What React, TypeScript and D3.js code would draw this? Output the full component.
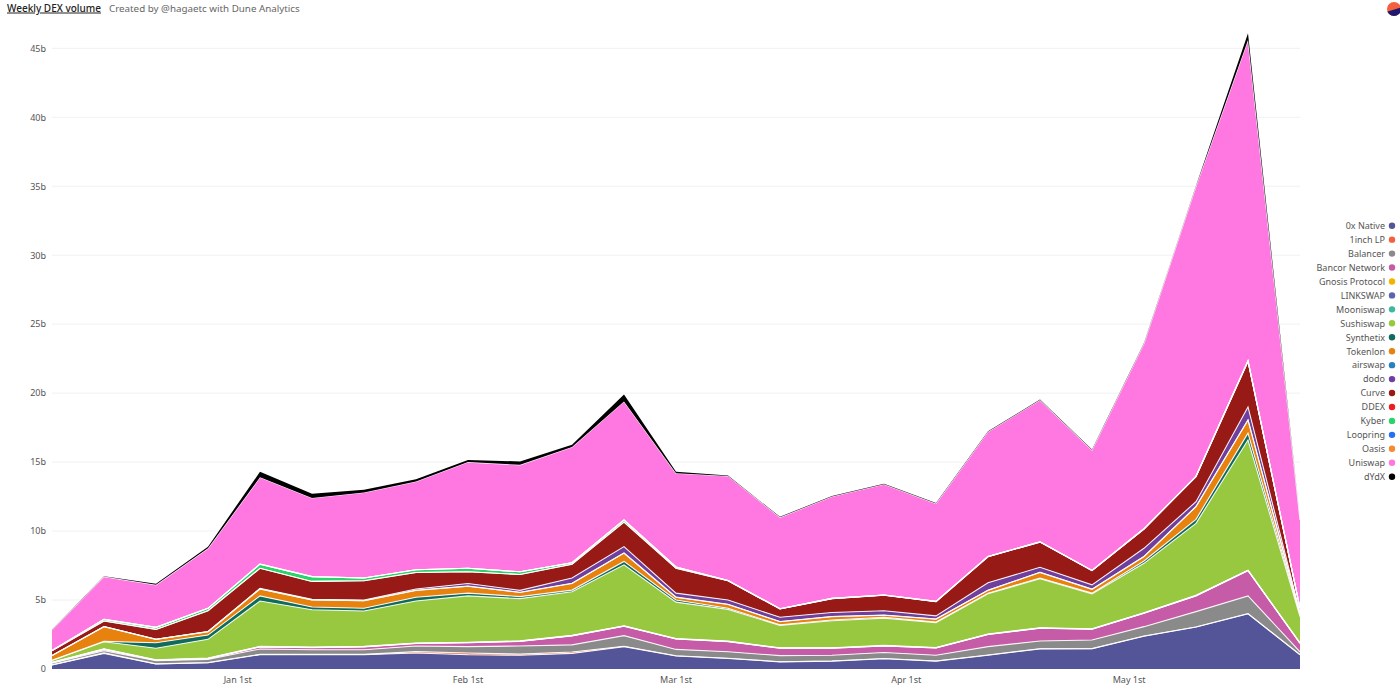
import * as d3 from "d3";

const weeks = [
  "2020-12-07", "2020-12-14", "2020-12-21", "2020-12-28", "2021-01-04", "2021-01-11", "2021-01-18",
  "2021-01-25", "2021-02-01", "2021-02-08", "2021-02-15", "2021-02-22", "2021-03-01", "2021-03-08",
  "2021-03-15", "2021-03-22", "2021-03-29", "2021-04-05", "2021-04-12", "2021-04-19", "2021-04-26",
  "2021-05-03", "2021-05-10", "2021-05-17", "2021-05-24",
].map((d) => new Date(d + "T00:00:00"));

// weekly volume in billions
const native = [.29, 1.12, .36, .45, 1.04, 1.04, 1.04, 1.16, 1.03, 1.0, 1.13, 1.62, .94, .76, .52, .57, .74, .57, 1.0, 1.46, 1.47, 2.38, 3.04, 4.0, 1.03];
const oneInch = [.01, .05, .01, .01, .02, .02, .02, .1, .13, .08, .1, .03, .02, .02, .01, .01, .02, .01, .01, .01, .01, .01, .01, .01, .01];
const balancer = [.12, .16, .23, .24, .39, .34, .34, .41, .46, .59, .52, .77, .46, .47, .44, .42, .44, .42, .61, .56, .62, .68, 1.11, 1.29, .21];
const bancor = [.03, .09, .03, .05, .15, .15, .2, .18, .28, .33, .65, .68, .75, .73, .53, .5, .47, .52, .88, .92, .78, .97, 1.14, 1.83, .61];
const gnosis = [.01, .01, .01, .01, .01, .01, .01, .01, .01, .01, .01, .01, .01, .01, .01, .01, .01, .01, .01, .01, .01, .01, .01, .01, .01];
const linkswap = [.01, .01, .01, .01, .01, .01, .01, .01, .01, .01, .01, .01, .01, .01, .01, .01, .01, .01, .01, .01, .01, .01, .01, .01, .01];
const mooniswap = [.02, .02, .02, .02, .02, .02, .02, .02, .02, .02, .02, .02, .02, .02, .02, .02, .02, .02, .02, .02, .02, .02, .02, .02, .02];
const sushiswap = [.13, .52, .83, 1.36, 3.29, 2.71, 2.56, 3.04, 3.36, 3.06, 3.16, 4.41, 2.64, 2.3, 1.62, 1.96, 1.98, 1.8, 2.91, 3.56, 2.53, 3.58, 5.22, 9.43, 1.9];
const synthetix = [.02, .02, .4, .31, .37, .2, .2, .27, .2, .15, .12, .25, .15, .08, .04, .05, .06, .04, .05, .05, .05, .17, .29, .5, .1];
const tokenlon = [.33, 1.07, .25, .24, .5, .5, .55, .5, .5, .3, .48, .6, .2, .28, .23, .25, .15, .22, .2, .4, .28, .32, .92, .95, .1];
const airswap = [.01, .01, .01, .01, .01, .01, .01, .01, .01, .01, .01, .01, .01, .01, .01, .01, .01, .01, .01, .01, .01, .01, .01, .01, .01];
const dodo = [0, 0, 0, .01, .04, .04, .04, .09, .19, .14, .39, .46, .29, .31, .31, .29, .31, .22, .54, .36, .31, .59, .35, .94, .09];
const curve = [.35, .4, .71, 1.5, 1.45, 1.3, 1.4, 1.2, .85, 1.15, 1.0, 1.78, 1.8, 1.4, .6, 1.0, 1.13, 1.03, 1.89, 1.83, 1.03, 1.4, 1.82, 3.3, .3];
const ddex = [0, 0, 0, 0, 0, 0, 0, 0, 0, 0, 0, 0, 0, 0, 0, 0, 0, 0, 0, 0, 0, 0, 0, 0, 0];
const kyber = [.02, .12, .15, .18, .3, .35, .2, .2, .25, .2, .1, .15, .1, .02, .02, .02, .02, .02, .02, .02, .02, .02, .02, .05, .02];
const loopring = [0, 0, 0, 0, 0, 0, 0, 0, 0, 0, 0, 0, 0, 0, 0, 0, 0, 0, 0, 0, 0, 0, 0, 0, 0];
const oasis = [0, 0, 0, 0, 0, 0, 0, 0, 0, 0, 0, 0, 0, 0, 0, 0, 0, 0, 0, 0, 0, 0, 0, 0, 0];
const uniswap = [1.48, 3.1, 3.08, 4.35, 6.3, 5.7, 6.2, 6.4, 7.7, 7.75, 8.4, 8.6, 6.8, 7.58, 6.63, 7.38, 8.03, 7.1, 9.04, 10.28, 8.73, 13.43, 21.03, 23.25, 6.38];
const dydx = [.01, .02, .08, .12, .4, .3, .2, .15, .15, .25, .15, .5, .1, .03, .03, .05, .03, .03, .03, .03, .03, .03, .03, .5, .01];

const names = ["0x Native", "1inch LP", "Balancer", "Bancor Network", "Gnosis Protocol", "LINKSWAP", "Mooniswap", "Sushiswap", "Synthetix", "Tokenlon", "airswap", "dodo", "Curve", "DDEX", "Kyber", "Loopring", "Oasis", "Uniswap", "dYdX"];
const columns = [native, oneInch, balancer, bancor, gnosis, linkswap, mooniswap, sushiswap, synthetix, tokenlon, airswap, dodo, curve, ddex, kyber, loopring, oasis, uniswap, dydx];
const colors = ["#545598", "#f4603e", "#8a8a8a", "#c65ba8", "#f5b301", "#5a64b0", "#3fb8a0", "#97c83f", "#0f6b5c", "#e8820e", "#2a7fbf", "#6f3f9e", "#971a16", "#ee1c1c", "#2bd46a", "#2a6ef5", "#f58a2e", "#ff77e1", "#000000"];

const yTicks = [0, 5, 10, 15, 20, 25, 30, 35, 40, 45];
const xTicks = ["2021-01-01", "2021-02-01", "2021-03-01", "2021-04-01", "2021-05-01"].map((d) => new Date(d + "T00:00:00"));
const xTickLabels = ["Jan 1st", "Feb 1st", "Mar 1st", "Apr 1st", "May 1st"];

const FONT = "'Noto Sans', sans-serif";

export default function App() {
  const x = d3.scaleTime().domain([weeks[0], weeks[weeks.length - 1]]).range([52, 1300]);
  const y = d3.scaleLinear().domain([0, 45]).range([669, 48.3]);
  const legendY = d3.scalePoint<string>().domain(names).range([225.7, 476.7]);

  const rows = weeks.map((_, i) => names.map((_n, s) => columns[s][i]));
  const stacked = d3.stack<number[], number>().keys(d3.range(names.length)).value((row, k) => row[k])(rows);

  const area = d3.area<d3.SeriesPoint<number[]>>()
    .x((_, i) => x(weeks[i]))
    .y0((d) => y(d[0]))
    .y1((d) => y(d[1]));
  const topLine = d3.line<d3.SeriesPoint<number[]>>()
    .x((_, i) => x(weeks[i]))
    .y((d) => y(d[1]));

  const last = names.length - 1;

  return (
    <svg width={1400} height={694} style={{ position: "absolute", left: 0, top: 0, fontFamily: FONT }}>
      <text x={7} y={11.5} fontSize={10} fontWeight={500} fill="#222" textDecoration="underline">Weekly DEX volume</text>
      <text x={109} y={11.5} fontSize={9.8} fill="#666">Created by @hagaetc with Dune Analytics</text>

      <defs>
        <clipPath id="logo"><circle cx={1394} cy={9} r={7} /></clipPath>
      </defs>
      <circle cx={1394} cy={9} r={7} fill="#f4603e" />
      <path d="M1386 12 L1402 7 L1402 18 L1386 18 Z" fill="#1e1a6e" clipPath="url(#logo)" />

      {yTicks.map((t) => (
        <g key={t}>
          {t > 0 && <line x1={52} x2={1300} y1={y(t)} y2={y(t)} stroke="#f1f1f1" />}
          <text x={46} y={y(t) + 3.3} textAnchor="end" fontSize={9} fill="#555">{t === 0 ? "0" : t + "b"}</text>
        </g>
      ))}
      {xTicks.map((t, i) => (
        <text key={i} x={x(t)} y={683} textAnchor="middle" fontSize={9} fill="#555">{xTickLabels[i]}</text>
      ))}

      {stacked.slice(0, last).map((s, i) => (
        <path key={names[i]} d={area(s) ?? ""} fill={colors[i]} />
      ))}
      {stacked.slice(0, last).map((s, i) => (
        <path key={names[i]} d={topLine(s) ?? ""} fill="none" stroke="#fff" strokeWidth={1.1} strokeOpacity={0.9} />
      ))}
      <path d={area(stacked[last]) ?? ""} fill={colors[last]} />

      {names.map((n, i) => (
        <g key={n}>
          <text x={1385} y={(legendY(n) ?? 0) + 3.3} textAnchor="end" fontSize={9} fill="#555">{n}</text>
          <circle cx={1392} cy={legendY(n)} r={3.2} fill={colors[i]} />
        </g>
      ))}
    </svg>
  );
}
